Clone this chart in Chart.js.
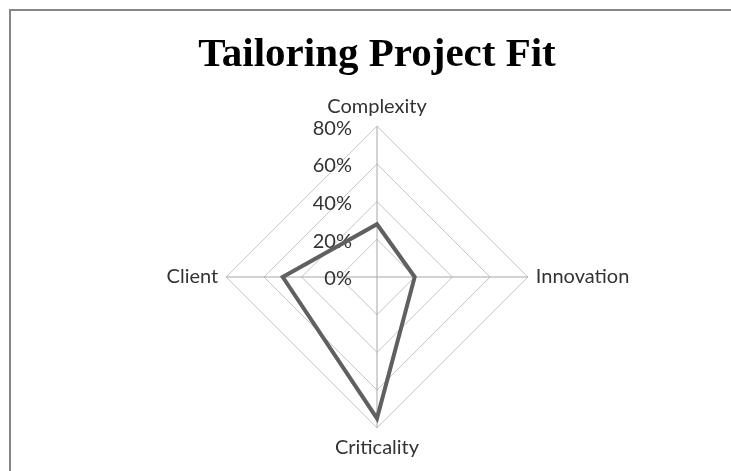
<!DOCTYPE html>
<html>
<head>
<meta charset="utf-8">
<script src="https://cdn.jsdelivr.net/npm/chart.js@4.4.1/dist/chart.umd.min.js"></script>
<style>
body { margin: 0; background: #fff; overflow: hidden; }
#frame { position: absolute; left: 9px; top: 9px; width: 800px; height: 600px; border-left: 2px solid #868686; border-top: 2px solid #868686; }
#myChart { position: absolute; left: 0; top: 0; }
</style>
</head>
<body>
<div id="frame"></div>
<canvas id="myChart" width="731" height="471"></canvas>
<script>
const categories = ['Complexity', 'Innovation', 'Criticality', 'Client'];
const fitValues = [28, 20, 75, 50];
const tickMax = 80;
const tickStep = 20;

// tick labels sit left of the vertical axis, like the original
const tickLabels = {
    id: 'tickLabels',
    beforeDatasetsDraw(chart) {
        const r = chart.scales.r;
        const c = chart.ctx;
        c.save();
        c.font = '20px Lato';
        c.fillStyle = '#333';
        c.textAlign = 'right';
        c.textBaseline = 'middle';
        r.ticks.forEach(t => {
            c.fillText(t.label, r.xCenter - 25, r.yCenter - r.getDistanceFromCenterForValue(t.value) + 2);
        });
        c.restore();
    }
};

const ctx = document.getElementById('myChart');
new Chart(ctx, {
    type: 'radar',
    data: {
        labels: categories,
        datasets: [{
            label: 'Fit',
            data: fitValues,
            borderColor: '#606060',
            borderWidth: 4,
            fill: false,
            pointRadius: 0,
            tension: 0
        }]
    },
    options: {
        responsive: false,
        animation: false,
        layout: {
            padding: { left: 23, bottom: 10 }
        },
        plugins: {
            legend: { display: false },
            tooltip: { enabled: false },
            title: {
                display: true,
                text: 'Tailoring Project Fit',
                color: '#000',
                font: { family: 'Liberation Serif', size: 41, weight: 'bold' },
                padding: { top: 31, bottom: 14 }
            }
        },
        scales: {
            r: {
                min: 0,
                max: tickMax,
                beginAtZero: true,
                ticks: {
                    stepSize: tickStep,
                    display: false,
                    callback: v => v + '%'
                },
                grid: { color: '#c4c4c4', lineWidth: 1 },
                angleLines: { color: '#a6a6a6', lineWidth: 1 },
                pointLabels: {
                    color: '#333',
                    padding: 8,
                    font: { family: 'Lato', size: 20 }
                }
            }
        }
    },
    plugins: [tickLabels]
});
</script>
</body>
</html>
